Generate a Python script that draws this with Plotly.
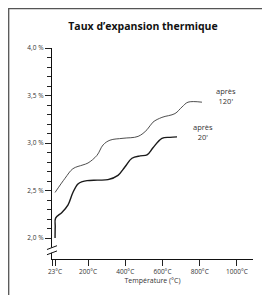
import plotly.graph_objects as go

# Data (°C, %)
temp_20 = [23, 24, 26, 60, 93, 119, 146, 170, 195, 250, 307, 361, 399, 436, 480, 517, 549, 597, 640, 678]
exp_20 = [2.00, 2.12, 2.21, 2.27, 2.35, 2.48, 2.57, 2.595, 2.605, 2.61, 2.615, 2.66, 2.75, 2.84, 2.865, 2.875, 2.95, 3.05, 3.06, 3.065]

temp_120 = [23, 77, 119, 173, 200, 248, 281, 318, 388, 469, 517, 549, 597, 667, 705, 737, 812]
exp_120 = [2.48, 2.63, 2.73, 2.77, 2.79, 2.87, 2.98, 3.03, 3.05, 3.07, 3.14, 3.22, 3.27, 3.31, 3.38, 3.43, 3.43]

x_ticks = [23, 200, 400, 600, 800, 1000]
x_tick_labels = ["23°C", "200°C", "400°C", "600°C", "800°C", "1000°C"]
y_ticks = [2.0, 2.5, 3.0, 3.5, 4.0]
y_tick_labels = ["2,0 %", "2,5 %", "3,0 %", "3,5 %", "4,0 %"]
y_minor = [2.1, 2.2, 2.3, 2.4, 2.6, 2.7, 2.8, 2.9, 3.1, 3.2, 3.3, 3.4, 3.6, 3.7, 3.8, 3.9]

X0, X1 = 6.7, 1086
Y0, Y1 = 1.78, 4.0

W, H = 262, 287
L, R, T, B = 44, 17, 40, 36

FONT = "Open Sans"
fig = go.Figure()
fig.add_trace(go.Scatter(x=temp_120, y=exp_120, mode="lines",
                         line=dict(color="#3a3a3a", width=0.9, shape="spline", smoothing=1.0),
                         showlegend=False, hoverinfo="skip"))
fig.add_trace(go.Scatter(x=temp_20, y=exp_20, mode="lines",
                         line=dict(color="#1a1a1a", width=1.4, shape="spline", smoothing=1.0),
                         showlegend=False, hoverinfo="skip"))

fig.update_layout(
    width=W, height=H,
    margin=dict(l=L, r=R, t=T, b=B),
    paper_bgcolor="white", plot_bgcolor="white",
    font=dict(family=FONT, color="#333333", size=7),
    title=dict(text="<b>Taux d’expansion thermique</b>", x=135 / W, xanchor="center",
               y=1 - 18 / H, yanchor="middle",
               font=dict(family=FONT, size=10.5, color="#111111")),
    xaxis=dict(range=[X0, X1], tickvals=[X0] + x_ticks, ticktext=[""] + x_tick_labels,
               ticks="outside", ticklen=6, tickwidth=1, tickcolor="#222",
               showline=True, linecolor="#111", linewidth=1.3,
               showgrid=False, zeroline=False,
               tickfont=dict(size=6.5, color="#333"),
               title=dict(text="Température (°C)", font=dict(size=7, color="#333"), standoff=3)),
    yaxis=dict(range=[Y0, Y1], tickvals=y_ticks, ticktext=y_tick_labels,
               ticks="outside", ticklen=6, tickwidth=1, tickcolor="#222",
               minor=dict(tickvals=y_minor, ticks="outside", ticklen=4, tickwidth=1, tickcolor="#222"),
               showline=True, linecolor="#111", linewidth=1.3,
               showgrid=False, zeroline=False,
               tickfont=dict(size=6.5, color="#333")),
)

# axis break
fig.add_shape(type="rect", xref="paper", yref="y", x0=-0.03, x1=0.03, y0=1.845, y1=1.9,
              fillcolor="white", line=dict(width=0), layer="above")
for yb in (1.845, 1.9):
    fig.add_shape(type="line", xref="paper", yref="y", x0=-0.025, x1=0.025,
                  y0=yb - 0.02, y1=yb + 0.02, line=dict(color="#111", width=1), layer="above")

# frame (top and left edges)
fx = (0.7 - L) / (W - L - R)
fy = (H - B - 0.7) / (H - T - B)
fig.add_shape(type="path", xref="paper", yref="paper",
              path=f"M {fx},-0.3 L {fx},{fy} L 1.2,{fy}",
              line=dict(color="#555", width=1.3))

fig.add_annotation(x=941, y=3.50, text="après<br>120'", showarrow=False,
                   font=dict(size=7.5, color="#333"), xref="x", yref="y")
fig.add_annotation(x=817, y=3.12, text="après<br>20'", showarrow=False,
                   font=dict(size=7.5, color="#333"), xref="x", yref="y")

fig.write_html("out.html")
